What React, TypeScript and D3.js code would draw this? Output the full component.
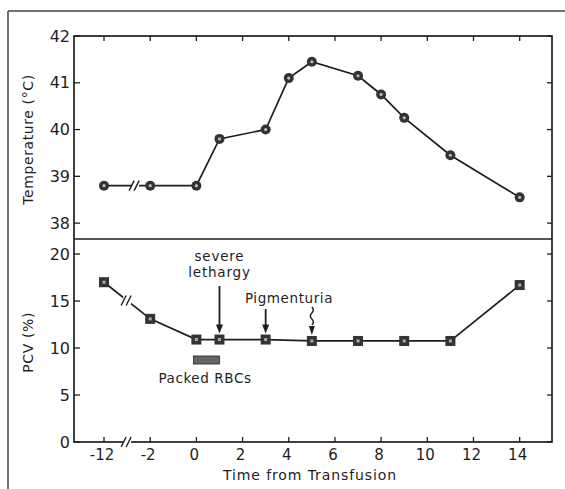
import React from 'react';
import * as d3 from 'd3';

// time after transfusion (days); -12 sits left of the axis break
const tempTimes = [-12, -2, 0, 1, 3, 4, 5, 7, 8, 9, 11, 14];
const tempValues = [38.8, 38.8, 38.8, 39.8, 40.0, 41.1, 41.45, 41.15, 40.75, 40.25, 39.45, 38.55];

const pcvTimes = [-12, -2, 0, 1, 3, 5, 7, 9, 11, 14];
const pcvValues = [17.0, 13.1, 10.9, 10.9, 10.9, 10.75, 10.75, 10.75, 10.75, 16.7];

const xTickValues = [-12, -2, 0, 2, 4, 6, 8, 10, 12, 14];
const tempTicks = [38, 39, 40, 41, 42];
const pcvTicks = [0, 5, 10, 15, 20];

const ink = '#1e1e1e';
const font = 'DejaVu Sans, sans-serif';

// broken axis: -12 is drawn where -4 would be
const pos = (t: number) => (t < -4 ? t + 8 : t);

const App = () => {
  const left = 74, right = 552, top = 36, mid = 239, bottom = 442;

  const x = d3.scaleLinear().domain([-5.3, 15.4]).range([left, right]);
  const yT = d3.scaleLinear().domain([37.66, 42]).range([mid, top]);
  const yP = d3.scaleLinear().domain([0, 21.6]).range([bottom, mid]);

  const tempLine = d3.line<number>()
    .x((_, i) => x(pos(tempTimes[i])))
    .y(d => yT(d));
  const pcvLine = d3.line<number>()
    .x((_, i) => x(pos(pcvTimes[i])))
    .y(d => yP(d));

  const breakMark = (cx: number, cy: number, key: string) => (
    <g key={key}>
      <rect x={cx - 4} y={cy - 4} width={8} height={8} fill="white" />
      <line x1={cx - 6} y1={cy + 5} x2={cx - 1} y2={cy - 5} stroke={ink} strokeWidth={1.4} />
      <line x1={cx - 1} y1={cy + 5} x2={cx + 4} y2={cy - 5} stroke={ink} strokeWidth={1.4} />
    </g>
  );

  const arrow = (cx: number, y1: number, y2: number, key: string) => (
    <g key={key}>
      <line x1={cx} y1={y1} x2={cx} y2={y2 - 6} stroke={ink} strokeWidth={1.8} />
      <path d={`M${cx - 3.5},${y2 - 9} L${cx + 3.5},${y2 - 9} L${cx},${y2} Z`} fill={ink} />
    </g>
  );

  const tBreakY = yT(38.8);
  const pBreakY = (yP(pcvValues[0]) + yP(pcvValues[1])) / 2;

  const label = { fill: ink, fontWeight: 500 } as const;

  return (
    <svg width={565} height={489} style={{ position: 'absolute', left: 0, top: 0, background: 'white' }}
      fontFamily={font}>
      {/* outer border of the scanned figure */}
      <line x1={8} y1={11} x2={565} y2={11} stroke="#444" strokeWidth={1.5} />
      <line x1={8} y1={11} x2={8} y2={489} stroke="#444" strokeWidth={1.5} />

      {/* plot frame */}
      <rect x={left} y={top} width={right - left} height={bottom - top} fill="none" stroke={ink} strokeWidth={1.7} />
      <line x1={left} y1={mid} x2={right} y2={mid} stroke={ink} strokeWidth={1.7} />

      {/* x ticks top (down) and bottom (up) */}
      {xTickValues.map(t => (
        <g key={'xt' + t}>
          <line x1={x(pos(t))} x2={x(pos(t))} y1={top} y2={top + 5} stroke={ink} strokeWidth={1.3} />
          <line x1={x(pos(t))} x2={x(pos(t))} y1={bottom} y2={bottom - 5} stroke={ink} strokeWidth={1.3} />
          <text x={x(pos(t)) - 2} y={460} textAnchor="middle" fontSize={15} {...label}>{t}</text>
        </g>
      ))}

      {/* temperature y ticks */}
      {tempTicks.map(v => (
        <g key={'tt' + v}>
          <line x1={left} x2={left + 6} y1={yT(v)} y2={yT(v)} stroke={ink} strokeWidth={1.3} />
          <line x1={right} x2={right - 5} y1={yT(v)} y2={yT(v)} stroke={ink} strokeWidth={1.3} />
          <text x={70} y={yT(v)} dy="0.35em" textAnchor="end" fontSize={16} {...label}>{v}</text>
        </g>
      ))}

      {/* pcv y ticks */}
      {pcvTicks.map(v => (
        <g key={'pt' + v}>
          <line x1={left} x2={left + 6} y1={yP(v)} y2={yP(v)} stroke={ink} strokeWidth={1.3} />
          <line x1={right} x2={right - 5} y1={yP(v)} y2={yP(v)} stroke={ink} strokeWidth={1.3} />
          <text x={70} y={yP(v)} dy="0.35em" textAnchor="end" fontSize={16} {...label}>{v}</text>
        </g>
      ))}

      {/* axis titles */}
      <text transform={`translate(33,${(top + mid) / 2 + 2}) rotate(-90)`} textAnchor="middle"
        fontSize={14} letterSpacing={0.6} {...label}>Temperature (°C)</text>
      <text transform={`translate(33,${yP(10.6)}) rotate(-90)`} textAnchor="middle"
        fontSize={14} letterSpacing={0.6} {...label}>PCV (%)</text>
      <text x={310} y={480} textAnchor="middle" fontSize={14} letterSpacing={0.9} {...label}>Time from Transfusion</text>

      {/* series lines */}
      <path d={tempLine(tempValues) || ''} fill="none" stroke={ink} strokeWidth={1.7} />
      <path d={pcvLine(pcvValues) || ''} fill="none" stroke={ink} strokeWidth={1.7} />

      {/* axis / line breaks */}
      {breakMark(x(-3) + 8, tBreakY, 'bt')}
      {breakMark(x(-3), pBreakY, 'bp')}
      {breakMark(x(-3), bottom, 'bx')}

      {/* markers */}
      {tempValues.map((v, i) => (
        <g key={'tm' + i}>
          <circle cx={x(pos(tempTimes[i]))} cy={yT(v)} r={5} fill="#333" />
          <circle cx={x(pos(tempTimes[i]))} cy={yT(v)} r={1.6} fill="#bbb" />
        </g>
      ))}
      {pcvValues.map((v, i) => (
        <g key={'pm' + i}>
          <rect x={x(pos(pcvTimes[i])) - 5} y={yP(v) - 5} width={10} height={10} fill="#333" />
          <rect x={x(pos(pcvTimes[i])) - 1.5} y={yP(v) - 1.5} width={3} height={3} fill="#aaa" />
        </g>
      ))}

      {/* annotations */}
      <text x={x(1)} y={261} textAnchor="middle" fontSize={13.5} letterSpacing={0.8} {...label}>severe</text>
      <text x={x(1)} y={277} textAnchor="middle" fontSize={13.5} letterSpacing={0.8} {...label}>lethargy</text>
      {arrow(x(1), 286, yP(10.9) - 6, 'a1')}
      <text x={289} y={303} textAnchor="middle" fontSize={13.5} letterSpacing={0.6} {...label}>Pigmenturia</text>
      {arrow(x(3), 309, yP(10.9) - 6, 'a2')}
      <path d={`M${x(5)},${307} q3,3 0,6 q-3,3 0,6 q3,3 0,6`} fill="none" stroke={ink} strokeWidth={1.4} />
      <path d={`M${x(5) - 3},${326} L${x(5) + 3},${326} L${x(5)},${yP(10.75) - 6} Z`} fill={ink} />

      {/* packed RBCs bar */}
      <rect x={x(0) - 3} y={356} width={x(1) - x(0) + 3} height={8} fill="#666" stroke={ink} strokeWidth={0.8} />
      <text x={205} y={383} textAnchor="middle" fontSize={13.5} letterSpacing={0.6} {...label}>Packed RBCs</text>
    </svg>
  );
};

export default App;
